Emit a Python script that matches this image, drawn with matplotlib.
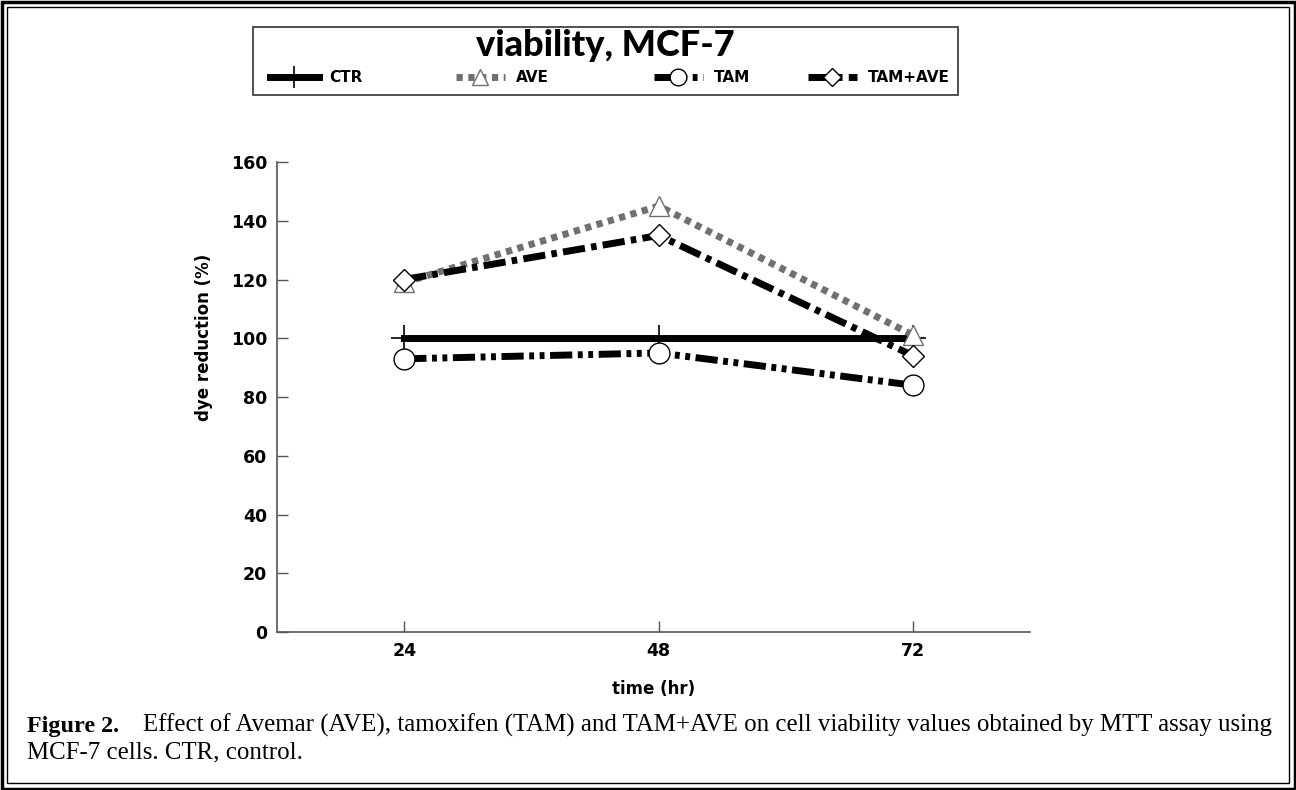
import matplotlib
matplotlib.use("Agg")
import matplotlib.pyplot as plt
from matplotlib.patches import Rectangle

# data
times = [24, 48, 72]
ctr = [100, 100, 100]
ave = [119, 145, 101]
tam = [93, 95, 84]
tam_ave = [120, 135, 94]
series_names = ["CTR", "AVE", "TAM", "TAM+AVE"]
yticks = [0, 20, 40, 60, 80, 100, 120, 140, 160]

W, H = 1296, 790
fig = plt.figure(figsize=(W / 100, H / 100), dpi=100)

# axes placed in pixel terms of the reference
ax = fig.add_axes([277 / W, 1 - 632 / H, (1030 - 277) / W, (632 - 162) / H])

lw = 5
ms = 15
ax.plot(times, ctr, color="black", lw=lw, linestyle="-",
        marker="+", ms=ms + 4, mew=1.2, mec="black", label=series_names[0])
ax.plot(times, ave, color="#707070", lw=lw, linestyle=(0, (0.9, 0.8)),
        marker="^", ms=ms, mew=1.0, mec="#707070", mfc="white",
        label=series_names[1])
ax.plot(times, tam, color="black", lw=lw,
        linestyle=(0, (3.2, 0.8, 0.7, 0.8, 0.7, 0.8)),
        marker="o", ms=ms, mew=1.0, mec="black", mfc="white",
        label=series_names[2])
ax.plot(times, tam_ave, color="black", lw=lw,
        linestyle=(0, (3.2, 0.9, 0.8, 0.9)),
        marker="D", ms=ms - 4, mew=1.0, mec="black", mfc="white",
        label=series_names[3])

ax.set_xlim(12, 83)
ax.set_ylim(0, 160)
ax.set_xticks(times)
ax.set_yticks(yticks)
ax.spines["top"].set_visible(False)
ax.spines["right"].set_visible(False)
for s in ["left", "bottom"]:
    ax.spines[s].set_color("#555555")
    ax.spines[s].set_linewidth(1.2)
ax.tick_params(direction="in", length=8, width=1.0, color="#555555",
               labelsize=12.5, pad=7)
for lab in ax.get_xticklabels() + ax.get_yticklabels():
    lab.set_fontweight("bold")
ax.set_xlabel("time (hr)", fontsize=12, fontweight="bold")
ax.set_ylabel("dye reduction (%)", fontsize=12, fontweight="bold")
ax.xaxis.set_label_coords(0.5, -(680 - 632) / 470)
ax.yaxis.set_label_coords(-(277 - 213) / 753, (632 - 337) / 470)

# legend box with title
fig.patches.append(Rectangle((253 / W, 1 - 95 / H), (958 - 253) / W, 68 / H,
                             transform=fig.transFigure, fill=False,
                             edgecolor="#333333", lw=1.2))
fig.text(605 / W, 1 - 45 / H, "viability, MCF-7", ha="center", va="center",
         fontsize=26, fontweight="black", family=["Lato", "DejaVu Sans"])
handles, labels = ax.get_legend_handles_labels()
legend_x = [270, 456, 654, 808]
for h, lab, x in zip(handles, labels, legend_x):
    leg = fig.legend([h], [lab], loc="center left",
                     bbox_to_anchor=(x / W, 1 - 78 / H), frameon=False,
                     handlelength=3.2, handletextpad=0.7, borderpad=0,
                     borderaxespad=0,
                     prop={"weight": "bold", "size": 11}, markerscale=0.8)

# caption
fig.text(27 / W, 1 - 732 / H, "Figure 2.", fontsize=17.4,
         fontweight="bold", family="Liberation Serif", va="baseline")
fig.text(143 / W, 1 - 732 / H,
         "Effect of Avemar (AVE), tamoxifen (TAM) and TAM+AVE on cell viability "
         "values obtained by MTT assay using",
         fontsize=17.9, family="Liberation Serif", va="baseline")
fig.text(27 / W, 1 - 758 / H, "MCF-7 cells. CTR, control.", fontsize=17.9,
         family="Liberation Serif", va="baseline")

# double page border
fig.patches.append(Rectangle((1.5 / W, 1.5 / H), (W - 3) / W, (H - 3) / H,
                             transform=fig.transFigure, fill=False,
                             edgecolor="black", lw=2.5))
fig.patches.append(Rectangle((7 / W, 7 / H), (W - 14) / W, (H - 14) / H,
                             transform=fig.transFigure, fill=False,
                             edgecolor="black", lw=1.0))

fig.savefig("out.png", dpi=100)
